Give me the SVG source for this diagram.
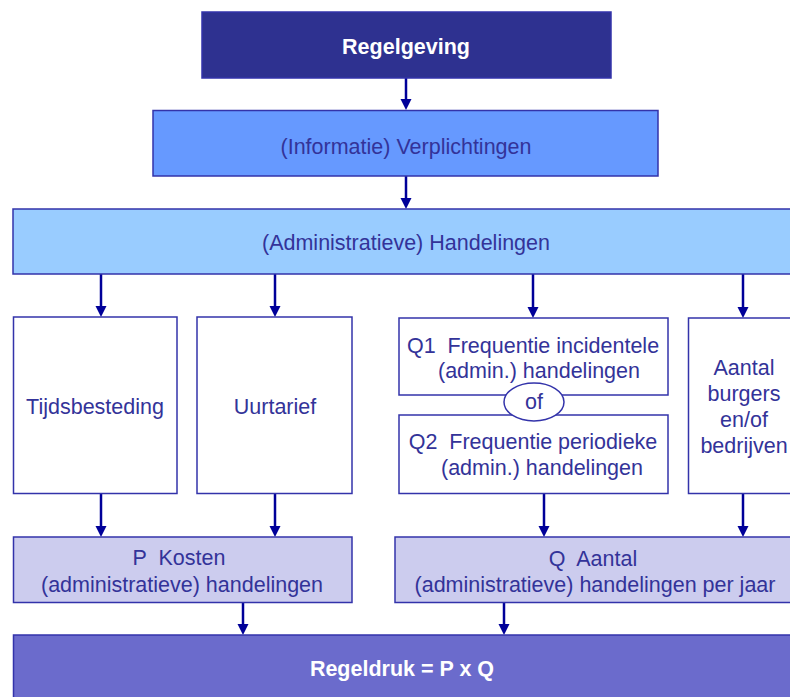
<svg xmlns="http://www.w3.org/2000/svg" width="790" height="697" viewBox="0 0 790 697">
<style>
.box{stroke:#3333AA;stroke-width:1.5}
.t{font-family:"Liberation Sans",Arial,sans-serif;font-size:21.5px;fill:#333399;text-anchor:middle;white-space:pre}
.b{font-family:"Liberation Sans",Arial,sans-serif;font-size:21.5px;font-weight:bold;fill:#ffffff;text-anchor:middle}
.c{stroke:#000099;stroke-width:2.5;fill:none}
.h{fill:#000099}
</style>
<rect width="790" height="697" fill="#ffffff"/>
<g id="connectors">
<line class="c" x1="406" y1="78" x2="406" y2="99"/><path class="h" d="M400.5,99 L411.5,99 L406,110 Z"/>
<line class="c" x1="406" y1="176" x2="406" y2="198"/><path class="h" d="M400.5,198 L411.5,198 L406,209 Z"/>
<line class="c" x1="101" y1="274" x2="101" y2="306"/><path class="h" d="M95.5,306 L106.5,306 L101,317 Z"/>
<line class="c" x1="275" y1="274" x2="275" y2="306"/><path class="h" d="M269.5,306 L280.5,306 L275,317 Z"/>
<line class="c" x1="533" y1="274" x2="533" y2="307"/><path class="h" d="M527.5,307 L538.5,307 L533,318 Z"/>
<line class="c" x1="743" y1="274" x2="743" y2="307"/><path class="h" d="M737.5,307 L748.5,307 L743,318 Z"/>
<line class="c" x1="101" y1="493" x2="101" y2="526"/><path class="h" d="M95.5,526 L106.5,526 L101,537 Z"/>
<line class="c" x1="275" y1="493" x2="275" y2="526"/><path class="h" d="M269.5,526 L280.5,526 L275,537 Z"/>
<line class="c" x1="544" y1="493" x2="544" y2="526"/><path class="h" d="M538.5,526 L549.5,526 L544,537 Z"/>
<line class="c" x1="743" y1="493" x2="743" y2="526"/><path class="h" d="M737.5,526 L748.5,526 L743,537 Z"/>
<line class="c" x1="243" y1="602" x2="243" y2="624"/><path class="h" d="M237.5,624 L248.5,624 L243,635 Z"/>
<line class="c" x1="504" y1="602" x2="504" y2="624"/><path class="h" d="M498.5,624 L509.5,624 L504,635 Z"/>
</g>
<g id="regelgeving">
<rect class="box" x="202" y="12" width="409" height="66" fill="#2E3190"/>
<text class="b" x="406" y="54">Regelgeving</text>
</g>
<g id="verplichtingen">
<rect class="box" x="153" y="110.5" width="505" height="65.5" fill="#6699FF"/>
<text class="t" x="406" y="154">(Informatie) Verplichtingen</text>
</g>
<g id="handelingen">
<rect class="box" x="13" y="209" width="790" height="65" fill="#99CCFF"/>
<text class="t" x="406" y="250">(Administratieve) Handelingen</text>
</g>
<g id="tijdsbesteding">
<rect class="box" x="13.5" y="317" width="163.5" height="176.5" fill="#ffffff"/>
<text class="t" x="95" y="414">Tijdsbesteding</text>
</g>
<g id="uurtarief">
<rect class="box" x="197" y="317" width="155" height="176.5" fill="#ffffff"/>
<text class="t" x="275" y="414">Uurtarief</text>
</g>
<g id="q1">
<rect class="box" x="399" y="318" width="269" height="77" fill="#ffffff"/>
<text class="t" x="533" y="353" xml:space="preserve">Q1  Frequentie incidentele</text>
<text class="t" x="539" y="378">(admin.) handelingen</text>
</g>
<g id="q2">
<rect class="box" x="399" y="415" width="269" height="78.5" fill="#ffffff"/>
<text class="t" x="533" y="449" xml:space="preserve">Q2  Frequentie periodieke</text>
<text class="t" x="542" y="475">(admin.) handelingen</text>
</g>
<g id="of">
<ellipse class="box" cx="534" cy="402" rx="30" ry="19" fill="#ffffff"/>
<text class="t" x="534" y="409">of</text>
</g>
<g id="aantal">
<rect class="box" x="688.5" y="318" width="115" height="175.5" fill="#ffffff"/>
<text class="t" x="744" y="375">Aantal</text>
<text class="t" x="744" y="401">burgers</text>
<text class="t" x="744" y="427">en/of</text>
<text class="t" x="744" y="453">bedrijven</text>
</g>
<g id="p-kosten">
<rect class="box" x="13.5" y="537" width="338.5" height="65.5" fill="#CCCCEE"/>
<text class="t" x="179" y="565" xml:space="preserve">P  Kosten</text>
<text class="t" x="182" y="592">(administratieve) handelingen</text>
</g>
<g id="q-aantal">
<rect class="box" x="395" y="537" width="408" height="65.5" fill="#CCCCEE"/>
<text class="t" x="593" y="566" xml:space="preserve">Q  Aantal</text>
<text class="t" x="595" y="592">(administratieve) handelingen per jaar</text>
</g>
<g id="regeldruk">
<rect class="box" x="13.5" y="635" width="790" height="70" fill="#6B6BCC"/>
<text class="b" x="402" y="676">Regeldruk = P x Q</text>
</g>
</svg>
